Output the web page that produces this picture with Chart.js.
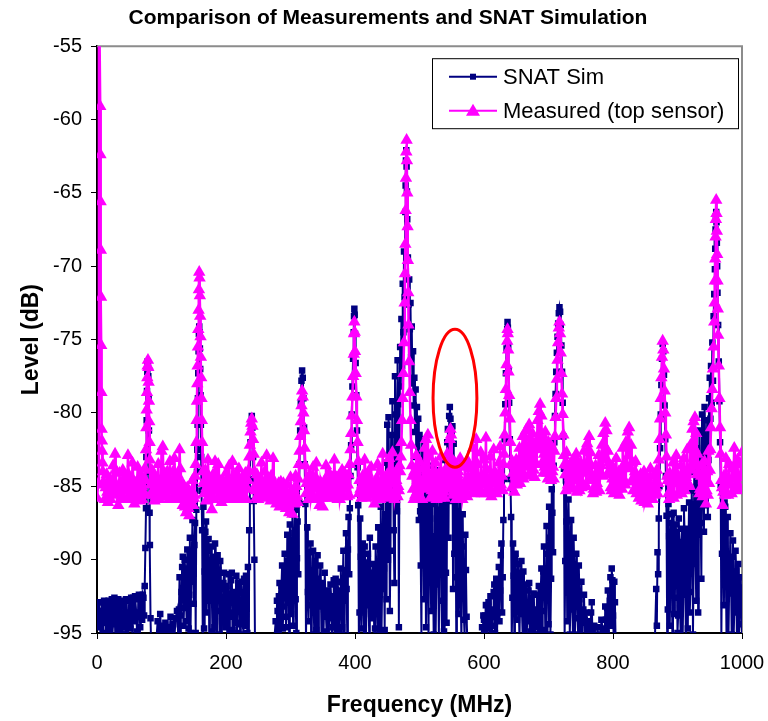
<!DOCTYPE html>
<html>
<head>
<meta charset="utf-8">
<script src="https://cdn.jsdelivr.net/npm/chart.js@4.4.1/dist/chart.umd.min.js"></script>
<style>
  html, body { margin: 0; padding: 0; background: #fff; }
  #wrap { width: 768px; height: 721px; position: relative; }
</style>
</head>
<body>
<div id="wrap"><canvas id="spectrum"></canvas></div>
<script>
const chartTitle = 'Comparison of Measurements and SNAT Simulation';
const xTitle = 'Frequency (MHz)';
const yTitle = 'Level (dB)';
const seriesNames = ['SNAT Sim', 'Measured (top sensor)'];
const xMin = 0, xMax = 1000, xStep = 200;
const yMin = -95, yMax = -55, yStep = 5;

// SNAT simulation, [MHz, dB]
const simTo250 = [
  [0,-93.2],[2,-94.6],[4,-93.5],[6,-95.3],[8,-92.9],[10,-94.1],[12,-93.3],[14,-95.6],[16,-93.8],[18,-92.8],[20,-94.5],[22,-93.1],[24,-95.2],[26,-93.6],[28,-94.4],[30,-92.9],[32,-94.8],[34,-93.4],[36,-95.5],[38,-93.9],[40,-94.6],[42,-93.2],[44,-95.1],[46,-93.7],[48,-94.3],[50,-92.8],[52,-94.7],[54,-93.3],[56,-92.6],[58,-94.2],[60,-92.5],[62,-94.9],[64,-92.7],[66,-93.6],[68,-92.5],[70,-94.1],[72,-92.6],[74,-91.8],
  [75,-89.2],[76,-86.5],[76.5,-83],[77,-80.5],[77.5,-78.5],[78,-77.2],[78.5,-76.5],[79,-76.6],[79.5,-77.5],[80,-79],[80.5,-81.2],[81,-84],[81.5,-86.8],[82,-89],[83,-94],[84,-96],
  [86,-97],[88,-96.5],[90,-97],[92,-95.5],[94,-94.2],[96,-95.8],[98,-93.7],[100,-95.4],[102,-94.5],[104,-96],[106,-94.3],[108,-95.2],[110,-94.6],[112,-95.5],[114,-93.9],[116,-95.1],[118,-94.4],[120,-95.3],[122,-94],[124,-93.5],
  [126,-95.2],[128,-91.2],[130,-93.8],[132,-90.5],[134,-94.5],[136,-90],[138,-92.8],[140,-89.3],[142,-94.7],[144,-88.5],[146,-91.5],[148,-87.3],[150,-93],[151,-89],[152,-87.5],[153,-95],[154,-86.6],
  [155,-84],[155.5,-82.5],[156,-80.8],[156.5,-79],[157,-77.3],[157.5,-75.8],[158,-74.6],[158.5,-74.1],[159,-74.5],[159.5,-75.6],[160,-77],[160.5,-78.8],[161,-80.8],[161.5,-83],[162,-85.3],[163,-88],[164,-95.5],
  [165,-86.4],[166,-94.7],[168,-88.1],[170,-93.6],[172,-89.4],[174,-95.3],[176,-90.2],[178,-92.5],[180,-89.8],[182,-94.6],[184,-91.3],[186,-93.5],[188,-90.7],[190,-95.1],[192,-92],[194,-94.2],[196,-91.6],[198,-93.8],[200,-92.3],[202,-95.4],[204,-91],[206,-93.6],[208,-91.4],[210,-94.8],[212,-92.2],[214,-93.4],[216,-91.1],[218,-94.3],[220,-92],[222,-95.2],[224,-91.5],[226,-93.9],[228,-91.3],[230,-94.5],[232,-92.1],[234,-90.5],[235.5,-95.2],
  [236,-88],[237,-84.5],[238,-82],[239,-80.6],[240,-80.2],[241,-81],[242,-83],[243,-86],[244,-90],[245,-96],
  [247,-97],[250,-96.5]
];
const simTo500 = [
  [255,-97],[260,-96.3],[265,-97],[270,-96],[275,-95.4],
  [277,-94.2],[279,-92.8],[281,-95.1],[283,-91.6],[285,-94],[287,-90.4],[289,-93.2],[291,-89.6],[293,-94.6],[295,-88.3],[297,-92.4],[299,-87.6],[301,-93.7],[303,-86.9],[305,-90.8],[307,-86.6],[309,-95],[311,-87.4],[312,-91],
  [313,-86],[314,-83.5],[315,-81.2],[316,-79.3],[317,-77.8],[318,-77.1],[319,-77.6],[320,-79],[321,-81],[322,-83.5],[323,-86.2],[324,-95.5],
  [326,-87.8],[328,-94.2],[330,-89.5],[332,-95.4],[334,-91.2],[336,-93.6],[338,-90.1],[340,-94.8],[342,-89.7],[344,-92.5],[346,-90.4],[348,-95.2],[350,-91.8],[352,-93.4],[354,-92.2],[356,-94.9],[358,-92.6],[360,-94],[362,-91.7],[364,-95.3],[366,-92.9],[368,-94.4],[370,-91.3],[372,-95],[374,-92.1],[376,-93.7],[378,-90.6],[380,-94.6],[382,-89.4],[384,-92.8],[386,-88.2],[388,-95.2],[390,-87.1],[391,-91],[392,-86.5],
  [393,-84.3],[394,-82.2],[395,-80.1],[396,-78.2],[397,-76.3],[398,-74.5],[398.5,-73.4],[399,-72.9],[399.5,-73.3],[400,-74.6],[401,-76.6],[402,-78.8],[403,-81.2],[404,-83.7],[405,-86.3],[406,-95.5],
  [408,-87.2],[410,-94.7],[412,-88.9],[414,-95.3],[416,-90.2],[418,-93.1],[420,-89.6],[422,-95.2],[424,-91],[426,-94],[428,-90.3],[430,-95.4],[432,-89.1],[434,-93.5],[436,-87.8],[438,-95.1],[440,-86.4],[442,-92],
  [444,-85.6],[446,-94.8],[448,-83.4],[450,-80.8],[451,-90],[452,-80.3],[454,-93.5],[456,-81.5],[458,-79.2],[460,-88],[462,-77.5],[464,-82.6],[466,-76.4],[468,-94.6],
  [469,-82],[470,-75.5],[471,-78.2],[472,-73.6],[473,-76.8],[474,-71.2],[475,-74.5],[476,-69],[477,-72.1],[478,-66.3],[478.5,-64.5],[479,-62.8],[479.5,-62.1],[480,-63.2],[480.5,-64.9],[481,-66.8],[482,-69.4],[483,-72.6],[484,-70.9],[485,-74.3],[486,-72.5],[487,-76.2],[488,-74.1],[489,-78],[490,-75.8],[491,-79.5],[492,-77.6],[493,-81.3],[494,-78.4],[495,-83],[496,-79.6],[497,-85.6],[498,-80.4],[499,-87.3],[500,-81.5]
];
const simTo750 = [
  [502,-90.4],[504,-81.8],[506,-88.2],[508,-82.5],[510,-94.6],[512,-82.9],
  [514,-95.3],[516,-84.2],[518,-93.5],[520,-83.6],[522,-95.1],[524,-84.8],[526,-91.7],[528,-83.9],[530,-95.4],[532,-85.3],[534,-92.8],[536,-84.1],[538,-94.9],
  [540,-83.2],[542,-94.3],[543,-82],[544,-81.1],[545,-88.5],[546,-80.2],[547,-79.6],[548,-80.4],[549,-86],[550,-81.3],[551,-80.9],[552,-92],[553,-82.1],[555,-83.6],[557,-95.2],[559,-84.8],[561,-93.7],[563,-85.4],[565,-95.5],[567,-86.9],[569,-94.1],[571,-88.3],[573,-93.9],[575,-96],
  [578,-97],[582,-96.5],[586,-97],[590,-96.4],[594,-97],
  [597,-94.6],[599,-93.8],[601,-95.3],[603,-93.1],[605,-94.7],[607,-92.9],[609,-95.2],[611,-93.4],[613,-94.5],[615,-92.2],[617,-95],[619,-91.3],[621,-93.6],[623,-90.5],[625,-92.1],[627,-88.9],[629,-91.2],[630,-87.3],
  [631,-84.5],[632,-81.8],[633,-79.4],[634,-77.3],[635,-75.6],[636,-74.3],[636.5,-73.8],[637,-74.2],[637.5,-75.4],[638,-77.1],[639,-79.3],[640,-81.8],[641,-84.5],[642,-87.1],[643,-95.5],
  [645,-88.9],[647,-95.2],[649,-89.6],[651,-94.1],[653,-90.3],[655,-95.4],[657,-91],[659,-93.7],[661,-90.8],[663,-95.3],[665,-91.7],[667,-94.2],[669,-92.1],[671,-95.4],[673,-92.6],[675,-94.5],[677,-92.3],[679,-95.1],[681,-93.4],
  [683,-94.4],[685,-91.8],[687,-95.2],[689,-90.6],[691,-93.5],[693,-89.1],[695,-94.8],[697,-87.7],[699,-92],[701,-86.4],[703,-95.1],[705,-85.2],[707,-89.5],[708,-83.6],
  [709,-82],[710,-80.2],[711,-78.7],[712,-77.2],[713,-75.9],[714,-74.8],[715,-73.9],[716,-73.2],[717,-72.8],[718,-73.1],[719,-74],[720,-75.4],[721,-77.2],[722,-79.3],[723,-81.6],[724,-83.8],[725,-95.3],
  [727,-84.6],[729,-94.2],[731,-85.9],[733,-95.1],[735,-87.3],[737,-93.4],[739,-88.5],[741,-95.3],[743,-89.6],[745,-94],[747,-90.4],[749,-95.5]
];
const simTo1000 = [
  [751,-91.5],[753,-94.3],[755,-92.4],[757,-95.4],[759,-93.6],[761,-96],[763,-94.2],[765,-95.1],[767,-92.9],[769,-96.2],[771,-94.5],[773,-96.5],
  [776,-94.6],[779,-96],[782,-94.1],[785,-95.6],[788,-93.2],[790,-95],[792,-92.1],[794,-94.3],[796,-91.2],[798,-90.6],[800,-93.8],[802,-91.5],[804,-95.4],[806,-96.5],
  [810,-97],[820,-96.5],[830,-97],[840,-96.4],[850,-97],[860,-96.5],
  [865,-95.4],[867,-92],[868,-94.5],[869,-89.5],[870,-91],[871,-87.2],[872,-85],
  [873,-82.4],[874,-80.1],[875,-78.1],[876,-76.3],[877,-75.3],[878,-75.8],[879,-77.4],[880,-79.5],[881,-81.8],[882,-84.3],[883,-87],[884,-95.3],
  [886,-86.2],[888,-94.5],[890,-87.5],[892,-95.2],[894,-86.8],[896,-92.6],[898,-88.1],[900,-95],[902,-87.2],[904,-93.3],[906,-88.8],[908,-95.3],[910,-86.5],[912,-91.4],[914,-87.9],[916,-94.7],[918,-86.1],[920,-92.2],[922,-85.3],[924,-95.1],[926,-84],[928,-89.7],[930,-82.4],[932,-93.6],[934,-81.2],[936,-87.5],[938,-80.1],[940,-84.8],[942,-79.6],[944,-86.3],[946,-80.5],[948,-83.2],
  [949,-79],[950,-77.6],[951,-80.4],[952,-76.8],[953,-79.3],[954,-75.2],[955,-77.8],[956,-73.4],[957,-71.9],[958,-70.2],[958.5,-68.8],[959,-67.5],[959.5,-66.6],[960,-66.3],[960.5,-67],[961,-68.4],[961.5,-70],[962,-71.8],[963,-74],[964,-76.5],[965,-79.2],[966,-82],[967,-84.9],
  [968,-95.3],[970,-85.2],[972,-93.1],[974,-86.4],[976,-95.4],[978,-87.1],[980,-92.3],[982,-88.2],[984,-95.1],[986,-88.7],[988,-93.6],[990,-89.4],[992,-95.2],[994,-90.3],[996,-94.4],[998,-91.2],[1000,-95.5]
];
// extra simulation readings in the noisy stretches, read between the ones above
const simNoise = [
  [1,-94],[3,-92.9],[5,-94.2],[7,-93.6],[9,-95],[11,-92.8],[13,-94.3],[15,-93],[17,-94.9],[19,-93.4],[21,-95.2],[23,-92.7],[25,-94],[27,-92.6],[29,-95.3],[31,-93.5],[33,-92.7],[35,-94.4],[37,-92.8],[39,-95.1],[41,-92.9],[43,-94.1],[45,-92.7],[47,-95.2],[49,-93.6],[51,-94.1],[53,-92.6],[55,-95.3],[57,-93.9],[59,-92.5],[61,-93.7],[63,-95],[65,-92.4],[67,-94.6],[69,-93.1],[71,-92.4],[73,-93.8],
  [127,-93.4],[129,-95.3],[131,-92.2],[133,-89.8],[135,-93.3],[137,-91.4],[139,-94.2],[141,-90.6],[143,-92.4],[145,-95],[147,-89.9],[149,-90.8],
  [167,-90.8],[169,-87.4],[171,-91.7],[173,-88.6],[175,-92.8],[177,-89.1],[179,-94.9],[181,-91.2],[183,-88.9],[185,-95.2],[187,-89.7],[189,-92.4],[191,-90.1],[193,-95.3],[195,-92.9],[197,-90.9],[199,-94.6],[201,-91.8],[203,-93.1],[205,-95.3],[207,-92.6],[209,-90.9],[211,-93.9],[213,-95.3],[215,-92.7],[217,-95],[219,-91.6],[221,-93.1],[223,-94.4],[225,-92.3],[227,-95.1],[229,-93.2],[231,-91.1],[233,-95],
  [278,-95.3],[280,-93.5],[282,-92.5],[284,-95.4],[286,-91.8],[288,-94.7],[290,-92.3],[292,-90.9],[294,-93.9],[296,-90.1],[298,-95.2],[300,-89.3],[302,-91.4],[304,-94.5],[306,-88.2],[308,-92.7],[310,-89.9],
  [327,-92.2],[329,-91.1],[331,-88.9],[333,-93.1],[335,-89.4],[337,-95.1],[339,-92.4],[341,-91.3],[343,-95.3],[345,-93.2],[347,-91.6],[349,-92.9],[351,-95.3],[353,-90.9],[355,-93.9],[357,-92.1],[359,-95.2],[361,-93.2],[363,-92.5],[365,-94.6],[367,-91.4],[369,-95.3],[371,-93.3],[373,-91.5],[375,-94.9],[377,-92.3],[379,-95.1],[381,-91.6],[383,-95.3],[385,-90.7],[387,-92],[389,-89.3],
  [407,-93.6],[409,-89.8],[411,-92.6],[413,-91.2],[415,-89.1],[417,-95.2],[419,-91.8],[421,-92.4],[423,-88.5],[425,-93.7],[427,-90.9],[429,-92.8],[431,-94.7],[433,-90.4],[435,-95.2],[437,-91.9],[439,-89.3],[441,-95.3],[443,-88.2],
  [445,-90.6],[447,-86.9],[449,-92.7],[453,-84.6],[455,-89.4],[457,-85.9],[459,-83.3],[461,-91.6],[463,-80.1],[465,-86.7],[467,-79.4],
  [501,-86.7],[503,-95.2],[505,-84.6],[507,-92.7],[509,-86.1],[511,-88.6],[513,-91.4],[515,-86.7],[517,-89.9],[519,-86.2],[521,-91.1],[523,-88.4],[525,-95.3],[527,-87.2],[529,-90.3],[531,-88.7],[533,-86.6],[535,-95.2],[537,-89.1],[539,-87.7],[541,-90.9],
  [554,-89.6],[556,-86.7],[558,-91.2],[560,-87.6],[562,-89.9],[564,-92.6],[566,-89.1],[568,-91.5],[570,-95.3],[572,-90.7],[574,-95.3],
  [598,-95.3],[600,-94.1],[602,-93.8],[604,-95.4],[606,-93.5],[608,-94.6],[610,-92.5],[612,-95.3],[614,-93.7],[616,-91.7],[618,-93.9],[620,-95.3],[622,-91.6],[624,-94.2],[626,-89.7],[628,-93.6],
  [644,-92.6],[646,-91.1],[648,-89.9],[650,-92.7],[652,-90.9],[654,-93.3],[656,-92.2],[658,-90.1],[660,-95.2],[662,-92.5],[664,-93.5],[666,-95.3],[668,-93.1],[670,-91.6],[672,-94.9],[674,-93.9],[676,-95.2],[678,-93.5],[680,-94.6],[682,-92.4],[684,-95.1],[686,-93.4],[688,-92.1],[690,-95.3],[692,-90.8],[694,-91.6],[696,-95.3],[698,-89.6],[700,-94.4],[702,-88.5],[704,-91.3],[706,-86.8],
  [726,-90.1],[728,-87.4],[730,-91.2],[732,-88.8],[734,-93.1],[736,-90.3],[738,-95.2],[740,-90.9],[742,-92.2],[744,-91.8],[746,-95.1],[748,-92.7],[750,-93.6],[752,-95.2],[754,-93.4],[756,-94.1],[758,-95.5],[760,-94.4],[762,-94.9],[764,-95.5],[766,-93.6],[768,-94.8],[770,-95.3],[772,-95.6],
  [777,-95.3],[781,-95.1],[784,-94.7],[787,-95.5],[789,-94.1],[791,-93.3],[793,-95.3],[795,-92.8],[797,-94.5],[799,-91.4],[801,-95.2],[803,-92.9],
  [885,-93.4],[887,-88.4],[889,-91.2],[891,-86.9],[893,-90.6],[895,-93.7],[897,-87.6],[899,-90.8],[901,-93.8],[903,-89.2],[905,-95.3],[907,-87.9],[909,-92.4],[911,-88.3],[913,-95.3],[915,-89.6],[917,-88.9],[919,-93.6],[921,-89.4],[923,-87.1],[925,-90.3],[927,-86.2],[929,-92.8],[931,-85.6],[933,-88.3],[935,-84.6],[937,-91.3],[939,-83.4],[941,-88.1],[943,-82.5],[945,-84.7],[947,-87.1],
  [969,-89.6],[971,-88.9],[973,-86.1],[975,-90.9],[977,-89.6],[979,-95.3],[981,-90.4],[983,-91.1],[985,-89.8],[987,-95.3],[989,-91.7],[991,-90.8],[993,-92.6],[995,-95.2],[997,-91.9],[999,-93.4]
];

// measured, top sensor, [MHz, dB]
const measTo250 = [
  [0,-85.8],[2,-84.8],[3,-50],[5,-59.1],[5.3,-62.4],[5.6,-65.6],[5.9,-68.9],[6.2,-72.1],[6.5,-75.4],[6.8,-78.6],[7.2,-81.1],[7.6,-81.9],[8,-82.6],[8.5,-83.4],[9,-84],[10,-84.7],
  [12,-85.9],[15,-84.2],[17,-86.1],[20,-84.5],[22,-85.5],[25,-83.6],[28,-82.8],[30,-84.9],[33,-86.3],[35,-84.1],[38,-85.7],[40,-83.9],[43,-85.2],[45,-84.3],[48,-82.9],[50,-85.8],[53,-84.6],[55,-83.4],[58,-86.2],[60,-84.8],[63,-83.7],[65,-85.5],[68,-84.2],[70,-85.9],[72,-84.6],[74,-83.8],
  [75,-84.6],[76,-82.5],[76.5,-81],[77,-79.8],[77.5,-78.6],[78,-77.6],[78.5,-76.8],[79,-76.4],[79.5,-76.9],[80,-77.9],[80.5,-79.2],[81,-80.6],[81.5,-82],[82,-83.2],[83,-84.9],
  [85,-83.9],[88,-85.6],[90,-84.3],[93,-85.4],[95,-83.5],[98,-84.8],[100,-82.6],[102,-82.3],[105,-84.1],[108,-85.7],[110,-84.5],[113,-83.3],[115,-85.2],[118,-84],[120,-83.1],[123,-85.6],[125,-84.2],[128,-82.5],[130,-84.7],[133,-86.3],[135,-85.4],[138,-86.8],[140,-85.1],[143,-87],[145,-86.2],[148,-84.6],[150,-85.8],[152,-84.3],
  [153,-83.5],[154,-82],[154.5,-80.5],[155,-79.2],[155.5,-78],[156,-76.8],[156.5,-75.5],[157,-74.3],[157.5,-73],[158,-71.6],[158.5,-70.4],[159,-70.8],[159.5,-72],[160,-73.4],[160.5,-74.8],[161,-76.2],[161.5,-77.6],[162,-79],[162.5,-80.5],[163,-82],[164,-84],
  [166,-85.5],[168,-83.9],[170,-85.1],[172,-83.2],[175,-84.7],[178,-86.6],[180,-84.2],[183,-83.3],[185,-85.3],[188,-83.5],[190,-84.8],[193,-86.1],[195,-84.6],[198,-85.8],[200,-84.1],[203,-85.4],[205,-83.6],[208,-84.9],[210,-83.3],[213,-85.6],[215,-84.2],[218,-85.1],[220,-83.8],[223,-85.4],[225,-84.4],[228,-85.9],[230,-84.1],[233,-85.2],[235,-83.9],
  [236,-83],[237,-82.2],[238,-81.3],[239,-80.7],[240,-80.4],[241,-80.9],[242,-81.8],[243,-82.8],[244,-84],
  [246,-85.3],[248,-84.2],[250,-85.9]
];
const measTo500 = [
  [253,-84.5],[255,-83.4],[258,-85.1],[260,-84],[263,-82.9],[265,-84.6],[268,-85.7],[270,-84.3],[273,-83.1],[275,-84.8],[278,-86.2],[280,-85],[283,-86.4],[285,-84.7],[288,-86.1],[290,-85.3],[293,-86.5],[295,-84.9],[298,-86.8],[300,-84.4],[303,-86.9],[305,-85.2],[308,-84.3],[310,-85.7],[312,-84.5],
  [313,-83.5],[314,-82.6],[315,-81.6],[316,-80.6],[317,-79.5],[318,-78.5],[319,-78.9],[320,-80],[321,-81.2],[322,-82.4],[323,-83.6],
  [325,-84.8],[328,-85.9],[330,-84.2],[333,-85.5],[335,-83.7],[338,-85],[340,-83.4],[343,-84.9],[345,-86.3],[348,-85.1],[350,-86.4],[353,-84.6],[355,-83.6],[358,-85.3],[360,-84.1],[363,-85.8],[365,-84.4],[368,-83.2],[370,-85],[373,-85.9],[375,-84.3],[378,-85.5],[380,-83.9],[383,-85.2],[385,-84.5],[388,-85.7],[390,-84.2],[392,-83.5],
  [393,-82.5],[394,-81.4],[395,-80.2],[396,-78.9],[397,-77.5],[398,-76],[398.5,-74.6],[399,-73.8],[399.5,-74.5],[400,-75.8],[401,-77.3],[402,-78.9],[403,-80.5],[404,-82],[405,-83.3],
  [407,-84.6],[410,-85.8],[412,-84.3],[415,-83.2],[418,-85],[420,-84.1],[423,-85.6],[425,-83.7],[428,-84.9],[430,-86.2],[433,-84.5],[435,-83.5],[438,-85.3],[440,-84],[443,-82.8],[445,-84.6],[448,-85.7],[450,-84.2],[453,-83.1],[455,-84.7],[458,-82.7],[460,-84.4],[463,-85.5],[465,-83.9],[467,-85],[469,-83.6],
  [470,-84],[471,-83],[472,-82],[473,-80.5],[474,-79],[475,-77.3],[476,-75.2],[477,-72.5],[477.5,-70.5],[478,-68.5],[478.5,-66.2],[479,-64],[479.5,-62.2],[480,-61.4],[480.5,-62.8],[481,-65],[481.5,-67.3],[482,-69.6],[482.5,-71.8],[483,-74],[484,-76.5],[485,-78.6],[486,-80.5],[487,-82.2],[488,-83.6],
  [490,-85.2],[492,-84],[495,-82.9],[497,-84.6],[500,-83.3]
];
const measTo750 = [
  [503,-85.1],[505,-83.8],[508,-82.4],[510,-81.8],[513,-81.5],[515,-83],[518,-84.5],[520,-82.6],[523,-84.9],[525,-83.4],[528,-85.3],[530,-84.1],[533,-83],[535,-84.7],[538,-85.4],[540,-84],[543,-82.8],[545,-83.5],[547,-81.8],[548,-81.1],[549,-81.5],[551,-83.2],[553,-84.6],[555,-83.4],[558,-85.2],[560,-84],[563,-83.1],[565,-84.8],[568,-85.5],[570,-83.7],[573,-84.5],[575,-83.3],[578,-85],[580,-83.8],[583,-82.4],[585,-84.2],[588,-81.8],[590,-83.5],[593,-85.3],[595,-82.7],[598,-84.4],[600,-83.2],[603,-81.7],[605,-83.9],[608,-85.4],[610,-83],[613,-84.6],[615,-82.5],[618,-84.1],[620,-85.5],[623,-83.4],[625,-82.3],[628,-84.3],[630,-83.5],
  [631,-82.8],[632,-81.5],[633,-80],[634,-78.4],[635,-76.7],[636,-75.1],[636.5,-74.3],[637,-74.6],[637.5,-75.7],[638,-77.2],[639,-78.8],[640,-80.4],[641,-82],[642,-83.5],[643,-85.1],
  [645,-84.1],[647,-85.4],[650,-83.2],[652,-84.6],[655,-82.4],[657,-84.3],[660,-81.6],[662,-84.2],[665,-81.2],[667,-82.6],[670,-80.8],[672,-83.6],[675,-81.4],[677,-83.9],[680,-82],[683,-80.5],[685,-79.9],[687,-79.4],[689,-80.2],[691,-81.5],[693,-82.8],[695,-81.3],[698,-84.1],[700,-82],[703,-83.5],[705,-82.3],[707,-83.7],[709,-82.6],
  [710,-81.6],[711,-80.3],[712,-79],[713,-77.7],[714,-76.4],[715,-75.2],[716,-74.2],[717,-73.8],[718,-74.6],[719,-75.9],[720,-77.3],[721,-78.7],[722,-80.1],[723,-81.5],[724,-82.9],
  [726,-84.2],[728,-82.7],[730,-84.9],[733,-83.5],[735,-85.1],[738,-83.2],[740,-84.6],[743,-82.8],[745,-84.1],[748,-85.3]
];
const measTo1000 = [
  [750,-83.4],[753,-84.8],[755,-82.6],[758,-84],[760,-82.1],[763,-81.6],[765,-82.7],[768,-84.3],[770,-85.2],[773,-83.6],[775,-84.8],[778,-82.9],[780,-84.2],[783,-82.2],[785,-81.4],[788,-80.7],[790,-81.2],[792,-82.6],[795,-84.1],[798,-85.3],[800,-83.7],[803,-84.9],[805,-83.1],[808,-84.5],[810,-85.6],[813,-83.8],[815,-82.4],[818,-83.6],[820,-82],[823,-81.3],[825,-81],[828,-82.2],[830,-83.4],[833,-84.7],[835,-83.3],[838,-84.6],[840,-85.8],[843,-84.2],[845,-85.5],[848,-84],[850,-85.9],[853,-84.4],[855,-85.7],[858,-83.8],[860,-85.1],[863,-84.3],[865,-85.6],[868,-83.9],[870,-84.8],
  [871,-83.2],[872,-81.8],[873,-80.4],[874,-79],[875,-77.6],[876,-76.2],[877,-75.1],[878,-75.7],[879,-77],[880,-78.5],[881,-80],[882,-81.5],[883,-83],[884,-84.3],
  [886,-85.5],[888,-84.1],[890,-85.3],[893,-83.4],[895,-84.7],[898,-82.9],[900,-84.2],[903,-85.4],[905,-83.6],[908,-84.8],[910,-83.1],[913,-84.4],[915,-82.5],[918,-83.9],[920,-82.2],[923,-81.1],[925,-80.6],[927,-80.3],[929,-81.4],[931,-82.8],[933,-84.1],[935,-85.2],[938,-83.5],[940,-84.9],[942,-83.3],[944,-86.2],[946,-84],[948,-82.6],[950,-83.9],
  [951,-82.5],[952,-81],[953,-79.7],[954,-78.4],[955,-77],[956,-75.5],[957,-73.8],[957.5,-72.5],[958,-71],[958.5,-69.5],[959,-68],[959.5,-66.8],[960,-65.5],[960.5,-66.4],[961,-67.6],[961.5,-69.2],[962,-71],[962.5,-72.9],[963,-74.7],[964,-76.8],[965,-79],[966,-81],[967,-82.8],[968,-84.6],
  [970,-86.3],[972,-84.3],[975,-83.1],[977,-84.7],[980,-83.5],[983,-84.9],[985,-83.8],[988,-82.4],[990,-84.1],[993,-83.2],[995,-84.4],[998,-83.5],[1000,-82.7]
];
// extra measured readings along the noise floor, between the ones above
const measNoise = [
  [11,-84.9],[13.5,-85.1],[16,-85.4],[18.5,-84.8],[21,-85.9],[23.5,-84.7],[26.5,-85.3],[29,-83.9],[31.5,-85.6],[34,-85],[36.5,-85.9],[39,-84.7],[41.5,-85.8],[44,-84.8],[46.5,-85.9],[49,-84.2],[51.5,-85.2],[54,-85.7],[56.5,-84.6],[59,-85.4],[61.5,-85.9],[64,-84.7],[66.5,-86],[69,-85],[71,-85.3],[73,-85.6],
  [84,-85.5],[86.5,-84.8],[89,-86],[91.5,-85.7],[94,-84.6],[96.5,-85.9],[99,-85.6],[101,-84.4],[103.5,-85.3],[106.5,-85],[109,-84],[111.5,-85.9],[114,-84.6],[116.5,-85.8],[119,-85.3],[121.5,-84.8],[124,-85.1],[126.5,-85.9],[129,-83.8],[131.5,-85.6],[134,-84.9],[136.5,-86.4],[139,-85.9],[141.5,-86.5],[144,-85.4],[146.5,-85.9],[149,-86.3],[151,-85.6],
  [165,-84.8],[167,-84.6],[169,-86],[171,-84.3],[173.5,-85.8],[176.5,-85.6],[179,-85.3],[181.5,-85.9],[184,-84.5],[186.5,-84.3],[189,-85.7],[191.5,-85.4],[194,-85.2],[196.5,-85.6],[199,-84.9],[201.5,-85.9],[204,-84.8],[206.5,-85.6],[209,-85.9],[211.5,-84.7],[214,-85],[216.5,-85.8],[219,-84.6],[221.5,-85.9],[224,-84.9],[226.5,-85.6],[229,-84.9],[231.5,-85.9],[234,-84.6],
  [245,-85],[247,-85.8],[249,-84.9],[251.5,-85.4],[254,-84.9],[256.5,-85.8],[259,-85.5],[261.5,-85.7],[264,-85.4],[266.5,-84.9],[269,-86],[271.5,-85.6],[274,-85.9],[276.5,-85.4],[279,-85.6],[281.5,-84.8],[284,-85.8],[286.5,-85.5],[289,-84.8],[291.5,-86.1],[294,-85.6],[296.5,-86.3],[299,-85.5],[301.5,-85.9],[304,-85.6],[306.5,-86.2],[309,-85],[311,-86.1],
  [324,-85.5],[326.5,-84.5],[329,-85.2],[331.5,-85.9],[334,-84.6],[336.5,-85.9],[339,-84.4],[341.5,-85.8],[344,-85.6],[346.5,-84.7],[349,-85.8],[351.5,-85.5],[354,-85.3],[356.5,-84.9],[359,-85.8],[361.5,-85.2],[364,-84.9],[366.5,-85.7],[369,-84.5],[371.5,-84.4],[374,-85.3],[376.5,-85.9],[379,-84.8],[381.5,-85.7],[384,-84.1],[386.5,-85.2],[389,-84.9],[391,-85.6],
  [406,-85.5],[408.5,-85.2],[411,-84.9],[413.5,-85.6],[416.5,-84.4],[419,-85.8],[421.5,-85.3],[424,-84.6],[426.5,-85.6],[429,-85.5],[431.5,-85.2],[434,-85.7],[436.5,-84.8],[439,-85.9],[441.5,-85.4],[444,-85.6],[446.5,-85.2],[449,-84.9],[451.5,-85.6],[454,-85.8],[456.5,-85.5],[459,-84.8],[461.5,-85.9],[464,-84.6],[466,-85.7],[468,-85.3],
  [489,-84.3],[491,-85.9],[493.5,-85.6],[496,-85.4],[498.5,-85.8],[501.5,-84.7],[504,-85.9],[506.5,-85.2],[509,-84.8],[511.5,-83.9],[514,-85.1],[516.5,-85.8],[519,-85.3],[521.5,-85.7],[524,-84.2],[526.5,-85.9],[529,-84.6],[531.5,-85.8],[534,-85.2],[536.5,-84.1],[539,-85.8],[541.5,-85.2],[544,-85.1],[546,-84.7],[550,-84.9],[552,-85.6],[554,-85.3],[556.5,-85.9],[559,-84.2],[561.5,-85.6],[564,-85.4],[566.5,-85.9],[569,-84.9],[571.5,-85.5],[574,-85.7],[576.5,-84.9],[579,-84.6],[581.5,-85.4],[584,-85.5],[586.5,-85.1],[589,-85.2],[591.5,-84.4],[594,-84.9],[596.5,-85.5],[599,-84.9],[601.5,-85.5],[604,-84.8],[606.5,-85.1],[609,-84.6],[611.5,-85.7],[614,-84.2],[616.5,-85.4],[619,-84.8],[621.5,-84.6],[624,-85.2],[626.5,-84.9],[629,-85.3],
  [644,-83.3],[646,-83.6],[648.5,-84.3],[651,-84.9],[653.5,-83.5],[656,-84.8],[658.5,-82.9],[661,-84.5],[663.5,-82.1],[666,-83.7],[668.5,-84.3],[671,-81.7],[673.5,-84.1],[676,-82.4],[678.5,-84.4],[681.5,-83.5],[684,-81.9],[686,-82.5],[688,-81.6],[690,-83.4],[692,-84.1],[694,-83.7],[696.5,-82.4],[699,-84.5],[701.5,-83.2],[704,-84.6],[706,-84],[708,-84.5],
  [725,-83.5],[727,-85.3],[729,-83.6],[731.5,-84.2],[734,-84.4],[736.5,-84.6],[739,-85.2],[741.5,-83.7],[744,-85.4],[746.5,-83.4],[749,-84.6],[751.5,-85.1],[754,-84.1],[756.5,-83.7],[759,-85],[761.5,-83.3],[764,-84.6],[766.5,-83.6],[769,-85.5],[771.5,-84.5],[774,-85.4],[776.5,-83.9],[779,-85.3],[781.5,-83.6],[784,-84.3],[786.5,-83.2],[789,-82.4],[791,-84.2],[793.5,-83.4],[796.5,-85.1],[799,-84.5],[801.5,-85.5],[804,-84.2],[806.5,-85.2],[809,-84],[811.5,-84.7],[814,-85.2],[816.5,-84.5],[819,-84.9],[821.5,-83.6],[824,-82.9],[826.5,-83.8],[829,-84.6],[831.5,-85.3],[834,-84],[836.5,-85.5],[839,-85.1],[841.5,-84.9],[844,-86],[846.5,-84.8],[849,-86.1],[851.5,-85.2],[854,-86.2],[856.5,-84.9],[859,-85.8],[861.5,-85.9],[864,-84.9],[866.5,-85.1],[869,-85.5],
  [885,-84.6],[887,-85.9],[889,-84.7],[891.5,-84.4],[894,-85.8],[896.5,-84],[899,-85.6],[901.5,-84.8],[904,-84.5],[906.5,-85.5],[909,-84.1],[911.5,-85.3],[914,-84.1],[916.5,-84.8],[919,-85],[921.5,-83.8],[924,-83.5],[926,-82.4],[928,-83.6],[930,-84.2],[932,-83.6],[934,-85.5],[936.5,-84.3],[939,-85.7],[941,-84.6],[943,-85.2],[945,-85.3],[947,-85.6],[949,-84.8],
  [969,-85.1],[971,-85.4],[973.5,-85.6],[976,-84.5],[978.5,-85.6],[981.5,-84.8],[984,-85.5],[986.5,-84.5],[989,-85.2],[991.5,-85],[994,-84.9],[996.5,-85.3],[999,-84.2]
];

// red ring drawn round the 550 MHz bump, in data units
const ring = { f: 555, db: -79, rf: 34, rdb: 4.7 };

const simColor = '#000080';
const measColor = '#FF00FF';
const fontFamily = "'Liberation Sans', Arial, sans-serif";

const toXY = pts => pts.slice().sort((a, b) => a[0] - b[0]).map(([x, y]) => ({ x, y }));
const simPoints = toXY([...simTo250, ...simTo500, ...simTo750, ...simTo1000, ...simNoise]);
const measPoints = toXY([...measTo250, ...measTo500, ...measTo750, ...measTo1000, ...measNoise]);

// gray frame on top and right of the plot, like Excel
const plotFrame = {
  id: 'plotFrame',
  beforeDatasetsDraw(chart) {
    const { ctx, chartArea: a } = chart;
    ctx.save();
    ctx.strokeStyle = '#8c8c8c';
    ctx.lineWidth = 2;
    ctx.beginPath();
    ctx.moveTo(a.left, a.top);
    ctx.lineTo(a.right, a.top);
    ctx.lineTo(a.right, a.bottom);
    ctx.stroke();
    ctx.restore();
  }
};

const ringMark = {
  id: 'ringMark',
  afterDatasetsDraw(chart) {
    const { ctx } = chart;
    const xs = chart.scales.x, ys = chart.scales.y;
    const cx = xs.getPixelForValue(ring.f);
    const cy = ys.getPixelForValue(ring.db);
    const rx = Math.abs(xs.getPixelForValue(ring.f + ring.rf) - cx);
    const ry = Math.abs(ys.getPixelForValue(ring.db + ring.rdb) - cy);
    ctx.save();
    ctx.strokeStyle = '#FF0000';
    ctx.lineWidth = 3;
    ctx.beginPath();
    ctx.ellipse(cx, cy, rx, ry, 0, 0, Math.PI * 2);
    ctx.stroke();
    ctx.restore();
  }
};

// boxed legend inside the plot, line + marker like Excel
const legendBox = {
  id: 'legendBox',
  afterDraw(chart) {
    const { ctx, chartArea: a } = chart;
    const w = 306, h = 70;
    const left = a.right - 4 - w, top = a.top + 12;
    ctx.save();
    ctx.fillStyle = '#fff';
    ctx.fillRect(left, top, w, h);
    ctx.strokeStyle = '#000';
    ctx.lineWidth = 1;
    ctx.strokeRect(left + 0.5, top + 0.5, w, h);
    ctx.font = '22px ' + fontFamily;
    ctx.textBaseline = 'middle';
    chart.data.datasets.forEach((ds, i) => {
      const y = top + 18.5 + i * 34;
      const mx = left + 41;
      ctx.strokeStyle = ds.borderColor;
      ctx.lineWidth = 2;
      ctx.beginPath();
      ctx.moveTo(left + 17, y);
      ctx.lineTo(left + 65, y);
      ctx.stroke();
      ctx.fillStyle = ds.backgroundColor;
      if (ds.pointStyle === 'rect') {
        ctx.fillRect(mx - 3, y - 3, 6, 6);
      } else {
        ctx.beginPath();
        ctx.moveTo(mx, y - 7);
        ctx.lineTo(mx + 7, y + 5);
        ctx.lineTo(mx - 7, y + 5);
        ctx.closePath();
        ctx.fill();
      }
      ctx.fillStyle = '#000';
      ctx.textAlign = 'left';
      ctx.fillText(ds.label, left + 71, y + 1);
    });
    ctx.restore();
  }
};

Chart.defaults.font.family = fontFamily;
Chart.defaults.color = '#000';

new Chart(document.getElementById('spectrum'), {
  type: 'line',
  data: {
    datasets: [
      {
        label: seriesNames[0],
        data: simPoints,
        borderColor: simColor,
        backgroundColor: simColor,
        borderWidth: 2,
        pointStyle: 'rect',
        pointRadius: 4.6,
        pointBorderWidth: 0,
        tension: 0,
        order: 2
      },
      {
        label: seriesNames[1],
        data: measPoints,
        borderColor: measColor,
        backgroundColor: measColor,
        borderWidth: 2.5,
        pointStyle: 'triangle',
        pointRadius: 7.2,
        pointBorderWidth: 0,
        tension: 0,
        order: 1
      }
    ]
  },
  options: {
    responsive: true,
    maintainAspectRatio: false,
    animation: false,
    layout: { padding: { left: 8, right: 0, top: 0, bottom: 0 } },
    plugins: {
      legend: { display: false },
      tooltip: { enabled: false },
      title: {
        display: true,
        text: chartTitle,
        color: '#000',
        font: { size: 21, weight: 'bold' },
        padding: { top: 6, bottom: 15 }
      }
    },
    scales: {
      x: {
        type: 'linear',
        min: xMin,
        max: xMax,
        ticks: { stepSize: xStep, font: { size: 20 }, color: '#000', padding: 12, maxRotation: 0, callback: v => String(v) },
        grid: { drawOnChartArea: false, drawTicks: true, tickLength: 6, color: '#000' },
        border: { color: '#000', width: 2 },
        title: { display: true, text: xTitle, color: '#000', font: { size: 23, weight: 'bold' }, padding: { top: 0, bottom: 2 } },
        afterFit(scale) {
          scale.height = 88;
          scale.paddingLeft = 0;
          scale.paddingRight = 26;
        }
      },
      y: {
        min: yMin,
        max: yMax,
        ticks: { stepSize: yStep, font: { size: 20 }, color: '#000', padding: 9 },
        grid: { drawOnChartArea: false, drawTicks: true, tickLength: 6, color: '#000' },
        border: { color: '#000', width: 2 },
        title: { display: true, text: yTitle, color: '#000', font: { size: 23, weight: 'bold' }, padding: { top: 10, bottom: 0 } },
        afterFit(scale) { scale.width = 89; }
      }
    }
  },
  plugins: [plotFrame, ringMark, legendBox]
});
</script>
</body>
</html>
